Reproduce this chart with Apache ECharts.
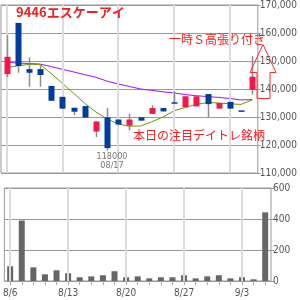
<!DOCTYPE html>
<html><head><meta charset="utf-8">
<script src="https://cdn.jsdelivr.net/npm/echarts@6/dist/echarts.min.js"></script>
<style>html,body{margin:0;padding:0;background:#fff}#c{width:300px;height:300px}</style>
</head><body><div id="c"></div>
<script>
const categories = ['8/6','8/7','8/8','8/9','8/10','8/13','8/14','8/15','8/16','8/17','8/20','8/21','8/22','8/23','8/24','8/27','8/28','8/29','8/30','8/31','9/3','9/4','9/5'];
const openP  = [145300,163600,147100,147100,141100,137200,133300,133900,124800,129900,129100,126900,129900,131100,133200,135000,133500,133800,138200,133000,135400,132100,139700];
const closeP = [151500,148200,145800,145000,135800,133000,131900,129800,128400,118900,127300,129100,128700,133200,132000,135000,137400,137400,134600,135000,133000,132100,144400];
const lowP   = [144300,145800,140800,140800,135800,133000,130700,129800,122800,118000,127300,125200,128700,131100,132000,135000,133500,133800,129900,133000,133000,132100,138000];
const highP  = [159200,163600,151300,148500,141100,137200,133300,133900,128400,133200,129100,131100,129900,134200,133200,139200,137400,137400,138200,135000,135400,132100,151800];
const volume = [95,390,88,43,69,50,24,30,37,63,24,30,17,24,24,37,17,30,37,17,24,11,443];
const maLong  = [149500,149300,149100,148900,148000,147000,146100,145100,144200,142800,141800,140900,140000,139500,139000,138600,138000,137600,137300,137000,136600,136100,136200];
const maShort = [147600,148300,148800,148800,145500,142000,138500,134900,131800,129300,127500,126700,126800,128300,130000,132200,133400,134500,135200,135000,134700,134500,136100];
const gridDates = ['8/6','8/13','8/20','8/27','9/3'];
const priceTicks = {min:110000, max:170000, interval:10000};
const volTicks = {min:0, max:600, interval:200};

const UP = '#f5174b', DOWN = '#003c9c', WICK = '#8c8c8c';
const NARROW = '"Liberation Sans Narrow","DejaVu Sans Condensed",sans-serif';
const JP = '"Noto Sans CJK JP",sans-serif';

const chart = echarts.init(document.getElementById('c'), null, {renderer:'canvas'});
const candleData = categories.map((c,i)=>[i, openP[i], closeP[i], lowP[i], highP[i]]);

function renderCandle(params, api){
  const i = api.value(0), o = api.value(1), c = api.value(2), l = api.value(3), h = api.value(4);
  const pO = api.coord([i,o]), pC = api.coord([i,c]), pL = api.coord([i,l]), pH = api.coord([i,h]);
  const x = Math.round(pO[0]) + 0.5;
  const w = 6;
  const children = [];
  if (pL[1] - pH[1] > 0.5) children.push({type:'line', shape:{x1:x,y1:pH[1],x2:x,y2:pL[1]}, style:{stroke:WICK,lineWidth:1.5}});
  if (o === c) children.push({type:'line', shape:{x1:x-w/2,y1:pO[1],x2:x+w/2,y2:pO[1]}, style:{stroke:DOWN,lineWidth:1.5}});
  else children.push({type:'rect', shape:{x:x-w/2,y:Math.min(pO[1],pC[1]),width:w,height:Math.abs(pO[1]-pC[1])}, style:{fill: c>o?UP:DOWN}});
  return {type:'group', children};
}

const vLines = {silent:true, symbol:'none', label:{show:false}, lineStyle:{color:'#dcdcdc', width:2, type:'solid'}, emphasis:{disabled:true}, data: gridDates.map(d=>({xAxis:d}))};

chart.setOption({
  animation:false,
  backgroundColor:'#fff',
  grid:[
    {left:1, right:29, top:5, height:168, show:true, borderColor:'#999', borderWidth:1},
    {left:1, right:29, top:188, height:93, show:true, borderColor:'#999', borderWidth:1}
  ],
  xAxis:[
    {type:'category', gridIndex:0, data:categories, boundaryGap:true, axisLine:{show:false}, axisTick:{show:false}, axisLabel:{show:false}, splitLine:{show:false}},
    {type:'category', gridIndex:1, data:categories, boundaryGap:true, axisLine:{show:false},
     axisTick:{show:true, alignWithLabel:true, interval:0, length:4, lineStyle:{color:'#aaa'}},
     axisLabel:{interval:4, margin:7, fontSize:10, fontFamily:NARROW, color:'#555'}, splitLine:{show:false}}
  ],
  yAxis:[
    {type:'value', gridIndex:0, position:'right', min:priceTicks.min, max:priceTicks.max, interval:priceTicks.interval,
     axisLine:{show:false}, axisTick:{show:true, length:3, lineStyle:{color:'#999'}},
     axisLabel:{margin:2, fontSize:10, fontFamily:NARROW, color:'#555'}, splitLine:{show:true, lineStyle:{color:'#999', width:1}}},
    {type:'value', gridIndex:1, position:'right', min:volTicks.min, max:volTicks.max, interval:volTicks.interval,
     axisLine:{show:false}, axisTick:{show:true, length:3, lineStyle:{color:'#999'}},
     axisLabel:{margin:2, fontSize:10, fontFamily:NARROW, color:'#555'}, splitLine:{show:true, lineStyle:{color:'#999', width:1}}}
  ],
  series:[
    {type:'line', xAxisIndex:0, yAxisIndex:0, data:maLong, symbol:'none', z:2, lineStyle:{color:'#a010ff', width:1}, markLine:vLines},
    {type:'line', xAxisIndex:0, yAxisIndex:0, data:maShort, symbol:'none', z:2, lineStyle:{color:'#6a9a00', width:1}},
    {type:'custom', xAxisIndex:0, yAxisIndex:0, data:candleData, renderItem:renderCandle, z:5, encode:{x:0, y:[1,2,3,4]}},
    {type:'bar', xAxisIndex:1, yAxisIndex:1, data:volume, barWidth:6, itemStyle:{color:'#666'}, z:3, markLine:vLines}
  ],
  graphic:[
    {type:'text', left:16, top:6, z:100, style:{text:'9446エスケーアイ', font:'bold 13px '+JP, fill:'#f02020'}},
    {type:'text', left:169, top:33, z:100, style:{text:'一時Ｓ高張り付き', font:'12px '+JP, fill:'#f02020'}},
    {type:'text', left:133, top:129, z:100, style:{text:'本日の注目デイトレ銘柄', font:'12px '+JP, fill:'#f02020'}},
    {type:'text', z:100, style:{x:112, y:152, text:'118000', align:'center', font:'9px '+NARROW, fill:'#777'}},
    {type:'text', z:100, style:{x:112, y:161, text:'08/17', align:'center', font:'9px '+NARROW, fill:'#777'}},
    {type:'polygon', z:100, shape:{points:[[263,44.5],[276,72.5],[270,72.5],[270,98.5],[257,98.5],[257,72.5],[250,72.5]]}, style:{fill:'rgba(0,0,0,0)', stroke:'#f03030', lineWidth:1}}
  ]
});
</script></body></html>
